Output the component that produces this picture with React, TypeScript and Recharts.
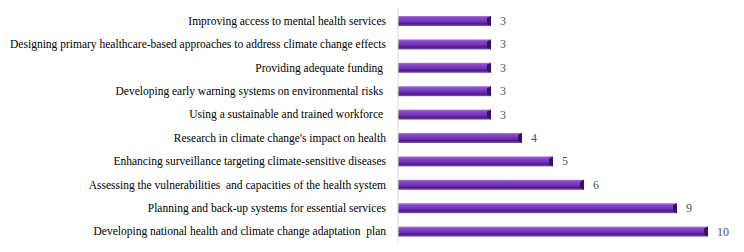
import React from 'react';
import { BarChart, Bar, XAxis, YAxis, LabelList } from 'recharts';

const categories = [
  'Improving access to mental health services',
  'Designing primary healthcare-based approaches to address climate change effects',
  'Providing adequate funding ',
  'Developing early warning systems on environmental risks ',
  'Using a sustainable and trained workforce ',
  "Research in climate change's impact on health",
  'Enhancing surveillance targeting climate-sensitive diseases',
  'Assessing the vulnerabilities  and capacities of the health system',
  'Planning and back-up systems for essential services',
  'Developing national health and climate change adaptation  plan',
];
const counts = [3, 3, 3, 3, 3, 4, 5, 6, 9, 10];

const data = categories.map((name, i) => ({ name, value: counts[i] }));

const serif = 'Liberation Serif';

const CylinderBar = (props: any) => {
  const { x, y, width, height } = props;
  if (!width || width <= 0) return null;
  const cap = 4;
  return (
    <g>
      <rect x={x} y={y} width={width} height={height} fill="url(#barGrad)" />
      <polygon
        points={`${x + width - cap},${y + 2} ${x + width},${y} ${x + width},${y + height} ${x + width - cap},${y + height - 2}`}
        fill="#3a1160"
      />
    </g>
  );
};

const CategoryTick = (props: any) => {
  const { x, y, payload } = props;
  return (
    <text
      x={x - 2}
      y={y}
      dy={4}
      textAnchor="end"
      fill="#000"
      fontFamily={serif}
      fontSize={11.5}
      xmlSpace="preserve"
    >
      {payload.value}
    </text>
  );
};

const ValueLabel = (props: any) => {
  const { x, y, width, height, value } = props;
  return (
    <text
      x={x + width + 9}
      y={y + height / 2}
      dy={4}
      textAnchor="start"
      fill="#44546a"
      fontFamily={serif}
      fontSize={12}
    >
      {value}
    </text>
  );
};

const App: React.FC = () => {
  return (
    <div style={{ position: 'absolute', left: 0, top: 0, background: '#fff' }}>
      <BarChart
        width={744}
        height={252}
        data={data}
        layout="vertical"
        margin={{ top: 9, right: 5, bottom: 9, left: 0 }}
        barSize={10}
      >
        <defs>
          <linearGradient id="barGrad" x1="0" y1="0" x2="0" y2="1">
            <stop offset="0%" stopColor="#a77ad6" />
            <stop offset="18%" stopColor="#8b48cc" />
            <stop offset="55%" stopColor="#7232b6" />
            <stop offset="78%" stopColor="#4c1a84" />
            <stop offset="100%" stopColor="#7e52b8" />
          </linearGradient>
        </defs>
        <XAxis type="number" domain={[0, 11]} hide />
        <YAxis
          type="category"
          dataKey="name"
          width={398}
          axisLine={{ stroke: '#d9d9d9' }}
          tickLine={false}
          tickMargin={4}
          interval={0}
          tick={<CategoryTick />}
        />
        <Bar dataKey="value" shape={<CylinderBar />} isAnimationActive={false}>
          <LabelList dataKey="value" content={<ValueLabel />} />
        </Bar>
      </BarChart>
    </div>
  );
};

export default App;
